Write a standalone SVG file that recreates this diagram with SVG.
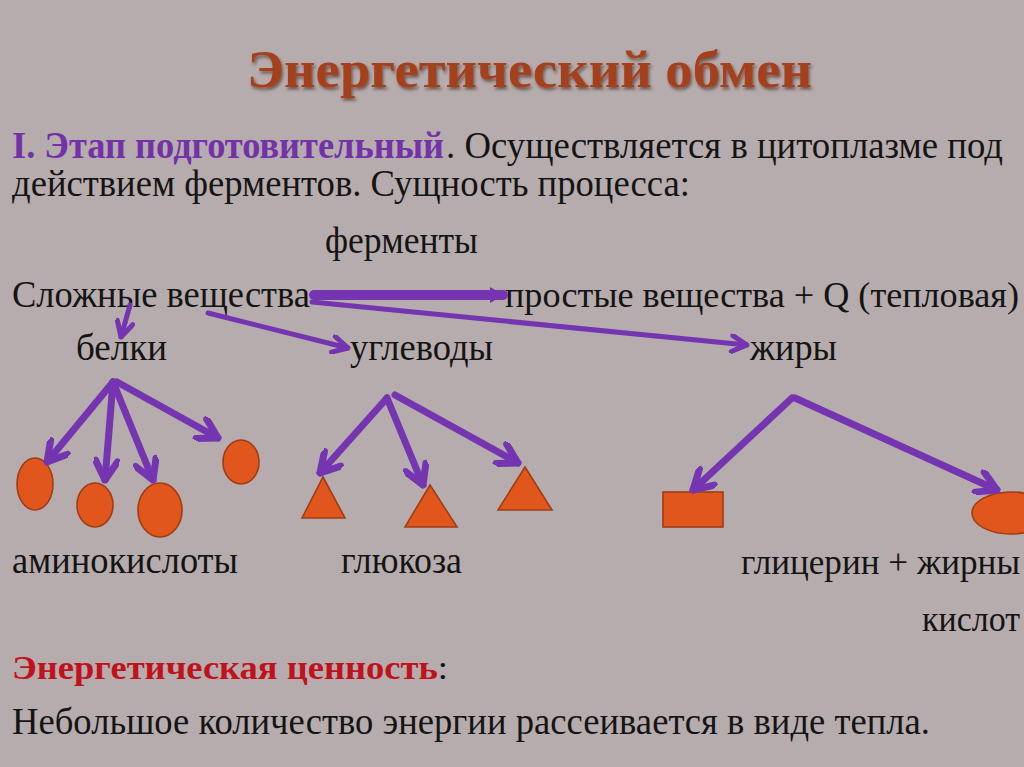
<svg xmlns="http://www.w3.org/2000/svg" width="1024" height="767" viewBox="0 0 1024 767">
<defs>
<style>
.t{font-family:"Liberation Serif","Times New Roman",serif;fill:#141414;font-size:37px}
.s{font-size:35px}
.b{font-weight:bold}
.arr{stroke:#7535b0;fill:none;stroke-linecap:round}
.shape{fill:#e0561c;stroke:#a03c16;stroke-width:1.6}
</style>
<marker id="chev" markerUnits="userSpaceOnUse" viewBox="0 0 26 26" markerWidth="26" markerHeight="26" refX="23" refY="13" orient="auto">
<path d="M4,2 L23,13 L4,24" fill="none" stroke="#7535b0" stroke-width="7" stroke-linecap="round" stroke-linejoin="round"/>
</marker>
<marker id="chevS" markerUnits="userSpaceOnUse" viewBox="0 0 20 20" markerWidth="20" markerHeight="20" refX="18" refY="10" orient="auto">
<path d="M3,2 L18,10 L3,18" fill="none" stroke="#7535b0" stroke-width="5" stroke-linecap="round" stroke-linejoin="round"/>
</marker>
<marker id="solid" markerUnits="userSpaceOnUse" viewBox="0 0 14 16" markerWidth="14" markerHeight="16" refX="13" refY="8" orient="auto">
<path d="M0,0 L14,8 L0,16 Z" fill="#7535b0"/>
</marker>
<filter id="sh" x="-5%" y="-20%" width="110%" height="150%">
<feDropShadow dx="1.5" dy="2.5" stdDeviation="1.5" flood-color="#3a1a10" flood-opacity="0.6"/>
</filter>
</defs>
<rect x="0" y="0" width="1024" height="767" fill="#b6acad"/>

<g id="title">
<text class="t b" x="247" y="87" style="fill:#a4401f;font-size:52px" textLength="565" lengthAdjust="spacingAndGlyphs" filter="url(#sh)">Энергетический обмен</text>
</g>

<g id="intro">
<text class="t b" x="12" y="158" style="fill:#7432a8" textLength="432" lengthAdjust="spacingAndGlyphs">I. Этап подготовительный</text>
<text class="t" x="446" y="158" textLength="557" lengthAdjust="spacingAndGlyphs">. Осуществляется в цитоплазме под</text>
<text class="t" x="12" y="196" textLength="678" lengthAdjust="spacingAndGlyphs">действием ферментов. Сущность процесса:</text>
</g>

<g id="enzymes"><text class="t" x="325" y="253" textLength="153" lengthAdjust="spacingAndGlyphs">ферменты</text></g>
<g id="complex"><text class="t" x="12" y="307" textLength="298" lengthAdjust="spacingAndGlyphs">Сложные вещества</text></g>
<g id="simple"><text class="t s" x="505" y="307" textLength="514" lengthAdjust="spacingAndGlyphs">простые вещества + Q (тепловая)</text></g>
<g id="proteins"><text class="t" x="76" y="360" textLength="91" lengthAdjust="spacingAndGlyphs">белки</text></g>
<g id="carbs"><text class="t" x="350" y="360" textLength="143" lengthAdjust="spacingAndGlyphs">углеводы</text></g>
<g id="fats"><text class="t" x="750" y="360" textLength="87" lengthAdjust="spacingAndGlyphs">жиры</text></g>

<g id="aminoacids">
<ellipse class="shape" cx="35" cy="484" rx="18" ry="26"/>
<ellipse class="shape" cx="95" cy="505" rx="18" ry="22"/>
<ellipse class="shape" cx="160" cy="510" rx="22" ry="27"/>
<ellipse class="shape" cx="241" cy="462" rx="18" ry="22"/>
<text class="t" x="12" y="573" textLength="226" lengthAdjust="spacingAndGlyphs">аминокислоты</text>
</g>
<g id="glucose">
<polygon class="shape" points="323,477 345,518 302,518"/>
<polygon class="shape" points="430,485 457,527 405,527"/>
<polygon class="shape" points="525,467 552,510 498,510"/>
<text class="t" x="341" y="573" textLength="121" lengthAdjust="spacingAndGlyphs">глюкоза</text>
</g>
<g id="glycerol">
<rect class="shape" x="663" y="492" width="60" height="35"/>
<ellipse class="shape" cx="1011" cy="513" rx="39" ry="21"/>
<text class="t s" x="741" y="574" textLength="279" lengthAdjust="spacingAndGlyphs">глицерин + жирны</text>
<text class="t s" x="922" y="631" textLength="98" lengthAdjust="spacingAndGlyphs">кислот</text>
</g>

<g id="value">
<text class="t" x="12" y="679" style="font-size:34px" textLength="436" lengthAdjust="spacingAndGlyphs"><tspan class="b" style="fill:#c0121c">Энергетическая ценность</tspan>:</text>
<text class="t" x="12" y="734" textLength="918" lengthAdjust="spacingAndGlyphs">Небольшое количество энергии рассеивается в виде тепла.</text>
</g>

<g id="connectors">
<line class="arr" x1="314" y1="295" x2="503" y2="295" stroke-width="10" stroke-linecap="butt" marker-end="url(#solid)"/>
<line class="arr" x1="312" y1="302" x2="747" y2="345" stroke-width="5" marker-end="url(#chevS)"/>
<line class="arr" x1="208" y1="313" x2="348" y2="348" stroke-width="5" marker-end="url(#chevS)"/>
<line class="arr" x1="130" y1="305" x2="121" y2="337" stroke-width="5" marker-end="url(#chevS)"/>
<line class="arr" x1="113" y1="382" x2="47" y2="462" stroke-width="7" marker-end="url(#chev)"/>
<line class="arr" x1="113" y1="382" x2="105" y2="480" stroke-width="7" marker-end="url(#chev)"/>
<line class="arr" x1="113" y1="382" x2="153" y2="480" stroke-width="7" marker-end="url(#chev)"/>
<line class="arr" x1="117" y1="382" x2="218" y2="438" stroke-width="7" marker-end="url(#chev)"/>
<line class="arr" x1="387" y1="398" x2="320" y2="473" stroke-width="7" marker-end="url(#chev)"/>
<line class="arr" x1="387" y1="398" x2="423" y2="485" stroke-width="7" marker-end="url(#chev)"/>
<line class="arr" x1="395" y1="395" x2="518" y2="463" stroke-width="7" marker-end="url(#chev)"/>
<line class="arr" x1="792" y1="398" x2="693" y2="490" stroke-width="7" marker-end="url(#chev)"/>
<line class="arr" x1="795" y1="398" x2="997" y2="490" stroke-width="7" marker-end="url(#chev)"/>
</g>
</svg>
